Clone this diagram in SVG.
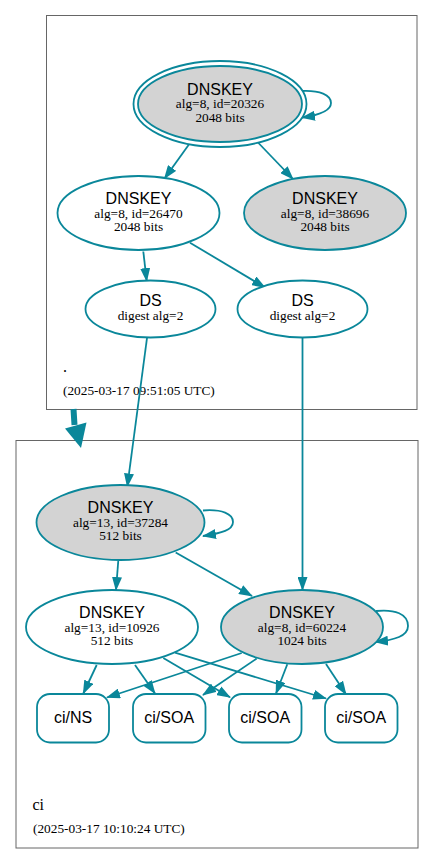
<svg xmlns="http://www.w3.org/2000/svg" width="435" height="865" viewBox="0 0 435 865">
<style>
.cl{fill:#ffffff;stroke:#666666;stroke-width:1}
.n{stroke:#0a879a;stroke-width:1.8;fill:#ffffff}
.g{fill:#d3d3d3}
.e{stroke:#0a879a;stroke-width:1.8;fill:none;marker-end:url(#ah)}
.t1{font-family:"Liberation Sans",Arial,sans-serif;font-size:16px;fill:#000;text-anchor:middle}
.t2{font-family:"Liberation Serif","Times New Roman",serif;font-size:13.33px;fill:#000;text-anchor:middle}
.lb{font-family:"Liberation Serif","Times New Roman",serif;fill:#000}
</style>
<defs>
<marker id="ah" markerUnits="userSpaceOnUse" markerWidth="14" markerHeight="10" viewBox="0 0 14 10" refX="13" refY="5" orient="auto">
<path d="M0,0 L14,5 L0,10 z" fill="#0a879a"/>
</marker>
</defs>
<rect width="435" height="865" fill="#ffffff"/>
<g id="cluster-root">
<rect class="cl" x="46.5" y="15.5" width="370.5" height="394"/>
<text class="lb" x="63" y="372" font-size="16">.</text>
<text class="lb" x="63" y="394.5" font-size="13.33">(2025-03-17 09:51:05 UTC)</text>
</g>
<g id="cluster-ci">
<rect class="cl" x="16" y="440.5" width="402" height="407.5"/>
<text class="lb" x="32.5" y="810" font-size="16">ci</text>
<text class="lb" x="33" y="833" font-size="13.33">(2025-03-17 10:10:24 UTC)</text>
</g>
<g id="edges">
<path d="M73.5,409 L74.5,425" stroke="#0a879a" stroke-width="6" fill="none"/>
<polygon points="65,428.5 86.5,422.5 81,448" fill="#0a879a"/>
<path class="e" d="M301,91 C320,90 331,95 331,103 C331,111 320,115 302,117.5"/>
<path class="e" d="M190,143 L164.5,178.5"/>
<path class="e" d="M258,142.5 L293,179"/>
<path class="e" d="M143.3,251.5 L146.7,281"/>
<path class="e" d="M190,242.7 L265,287.5"/>
<path class="e" d="M147,338 L127.3,486.5"/>
<path class="e" d="M302.5,338 L302.5,590"/>
<path class="e" d="M203,510.5 C222,509 233,514 233,522 C233,530 222,533 203,536"/>
<path class="e" d="M118.3,560.5 L116,590"/>
<path class="e" d="M175.7,552.5 L252,596"/>
<path class="e" d="M376,611 C395,609 408,614 408,626 C408,636 395,640 375,642"/>
<path class="e" d="M96.7,665 L83.3,693.5"/>
<path class="e" d="M135,665 L155,693.5"/>
<path class="e" d="M163.3,658 L230,697.3"/>
<path class="e" d="M175,652.7 L326,698.5"/>
<path class="e" d="M241.7,653 L107,697.5"/>
<path class="e" d="M256.7,658.5 L203,695"/>
<path class="e" d="M287.3,664.3 L276,693.5"/>
<path class="e" d="M326,664 L346,694.3"/>
</g>
<g id="dnskey-20326">
<ellipse class="n" cx="220" cy="104" rx="86.5" ry="43"/>
<ellipse class="n g" cx="220" cy="104" rx="82" ry="38"/>
<text class="t1" x="220" y="94.5">DNSKEY</text>
<text class="t2" x="220" y="108">alg=8, id=20326</text>
<text class="t2" x="220" y="121.5">2048 bits</text>
</g>
<g id="dnskey-26470">
<ellipse class="n" cx="138.5" cy="213" rx="81" ry="37"/>
<text class="t1" x="138.5" y="204">DNSKEY</text>
<text class="t2" x="138.5" y="217.5">alg=8, id=26470</text>
<text class="t2" x="138.5" y="231">2048 bits</text>
</g>
<g id="dnskey-38696">
<ellipse class="n g" cx="325" cy="213" rx="81" ry="37"/>
<text class="t1" x="325" y="204">DNSKEY</text>
<text class="t2" x="325" y="217.5">alg=8, id=38696</text>
<text class="t2" x="325" y="231">2048 bits</text>
</g>
<g id="ds-left">
<ellipse class="n" cx="150.5" cy="309" rx="65" ry="28.5"/>
<text class="t1" x="150.5" y="306">DS</text>
<text class="t2" x="150.5" y="320">digest alg=2</text>
</g>
<g id="ds-right">
<ellipse class="n" cx="302.5" cy="309" rx="65" ry="28.5"/>
<text class="t1" x="302.5" y="306">DS</text>
<text class="t2" x="302.5" y="320">digest alg=2</text>
</g>
<g id="dnskey-37284">
<ellipse class="n g" cx="120.5" cy="522.5" rx="84" ry="37.5"/>
<text class="t1" x="120.5" y="512.5">DNSKEY</text>
<text class="t2" x="120.5" y="526.5">alg=13, id=37284</text>
<text class="t2" x="120.5" y="540">512 bits</text>
</g>
<g id="dnskey-10926">
<ellipse class="n" cx="112" cy="627" rx="86" ry="37"/>
<text class="t1" x="112" y="618">DNSKEY</text>
<text class="t2" x="112" y="631.5">alg=13, id=10926</text>
<text class="t2" x="112" y="645">512 bits</text>
</g>
<g id="dnskey-60224">
<ellipse class="n g" cx="302" cy="627" rx="81" ry="37"/>
<text class="t1" x="302" y="618">DNSKEY</text>
<text class="t2" x="302" y="631.5">alg=8, id=60224</text>
<text class="t2" x="302" y="645">1024 bits</text>
</g>
<g id="rr-ci-ns">
<rect class="n" x="37" y="694" width="72" height="48.5" rx="13"/>
<text class="t1" x="73" y="723">ci/NS</text>
</g>
<g id="rr-ci-soa-1">
<rect class="n" x="133" y="694" width="72.5" height="48.5" rx="13"/>
<text class="t1" x="169.2" y="723">ci/SOA</text>
</g>
<g id="rr-ci-soa-2">
<rect class="n" x="229" y="694" width="72.5" height="48.5" rx="13"/>
<text class="t1" x="265.2" y="723">ci/SOA</text>
</g>
<g id="rr-ci-soa-3">
<rect class="n" x="325" y="694" width="72.5" height="48.5" rx="13"/>
<text class="t1" x="361.2" y="723">ci/SOA</text>
</g>
</svg>
